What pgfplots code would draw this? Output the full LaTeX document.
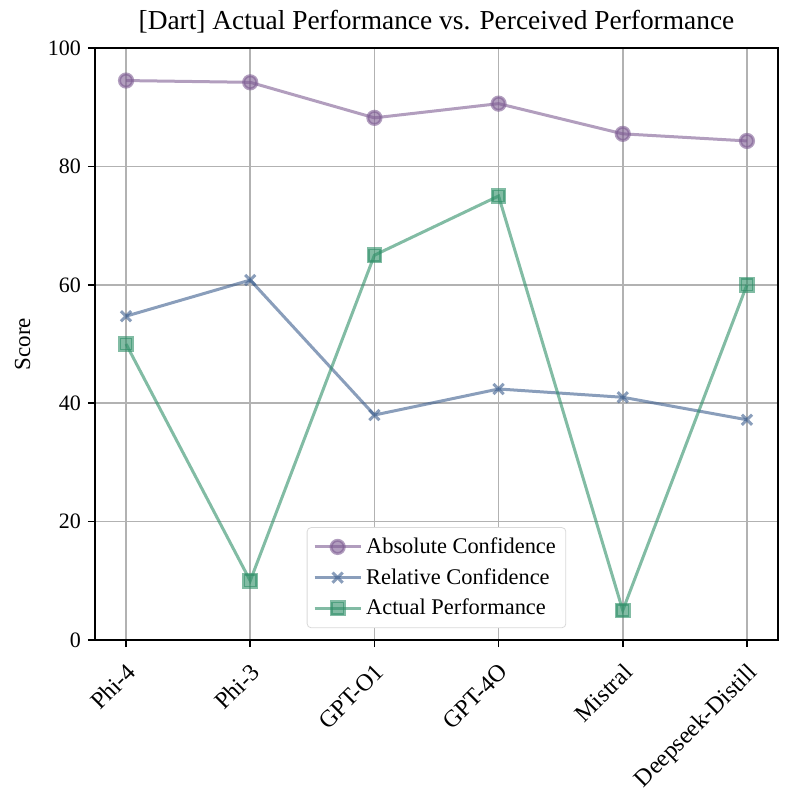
\documentclass[border=0pt]{standalone}
\usepackage{fontspec}
\setmainfont{Liberation Serif}
\usepackage{pgfplots}
\pgfplotsset{compat=1.18}
\definecolor{cabs}{HTML}{7E5D93}
\definecolor{crel}{HTML}{3C5E8E}
\definecolor{cact}{HTML}{2F8F68}
\begin{document}
\begin{tikzpicture}
\begin{axis}[
  name=ax,
  scale only axis,
  width=341.5bp, height=296bp,
  xmin=-0.25, xmax=5.25,
  ymin=0, ymax=100,
  xtick={0,1,2,3,4,5},
  xticklabels={Phi-4,Phi-3,GPT-O1,GPT-4O,Mistral,Deepseek-Distill},
  xticklabel style={rotate=45, anchor=north east, inner sep=1pt, xshift=-4.5bp, yshift=-4bp, font=\fontsize{12bp}{13bp}\selectfont},
  yticklabel style={font=\fontsize{11bp}{13bp}\selectfont},
  ytick={0,20,40,60,80,100},
  /pgf/number format/assume math mode=true,
  tick pos=left,
  tick align=outside,
  major tick length=3.5bp,
  tick style={black, line width=0.8bp},
  axis line style={line width=0.8bp},
  grid=major,
  major grid style={gray!60, line width=0.8bp},
  ylabel={Score},
  ylabel style={font=\fontsize{11.5bp}{13bp}\selectfont, yshift=2bp},
  title={[Dart] Actual Performance vs. Perceived Performance},
  title style={font=\fontsize{13.7bp}{16bp}\selectfont, yshift=-2bp},
  legend style={at={(0.5,0.02)}, anchor=south, draw=gray!30, rounded corners=2bp,
    font=\fontsize{11.2bp}{13bp}\selectfont, row sep=2bp, inner sep=3bp},
  legend cell align=left,
  legend image code/.code={\draw[mark repeat=2,mark phase=2] plot coordinates {(0bp,0bp) (11.5bp,0bp) (23bp,0bp)};},
]
\addplot[cabs, opacity=0.6, line width=1.5bp, mark=*, mark size=3.3bp, mark options={solid}] coordinates {
(0,94.5) (1,94.2) (2,88.2) (3,90.6) (4,85.5) (5,84.3)};
\addlegendentry{Absolute Confidence}
\addplot[crel, opacity=0.6, line width=1.5bp, mark=x, mark size=3.6bp, mark options={solid}] coordinates {
(0,54.7) (1,60.8) (2,38.0) (3,42.4) (4,41.0) (5,37.2)};
\addlegendentry{Relative Confidence}
\addplot[cact, opacity=0.6, line width=1.5bp, mark=square*, mark size=3.2bp, mark options={solid}] coordinates {
(0,50) (1,10) (2,65) (3,75) (4,5) (5,60)};
\addlegendentry{Actual Performance}
\end{axis}
\pgfresetboundingbox
\path ([xshift=-47.5bp,yshift=-76.5bp]ax.south west) rectangle ([xshift=7.5bp,yshift=24bp]ax.north east);
\end{tikzpicture}
\end{document}
